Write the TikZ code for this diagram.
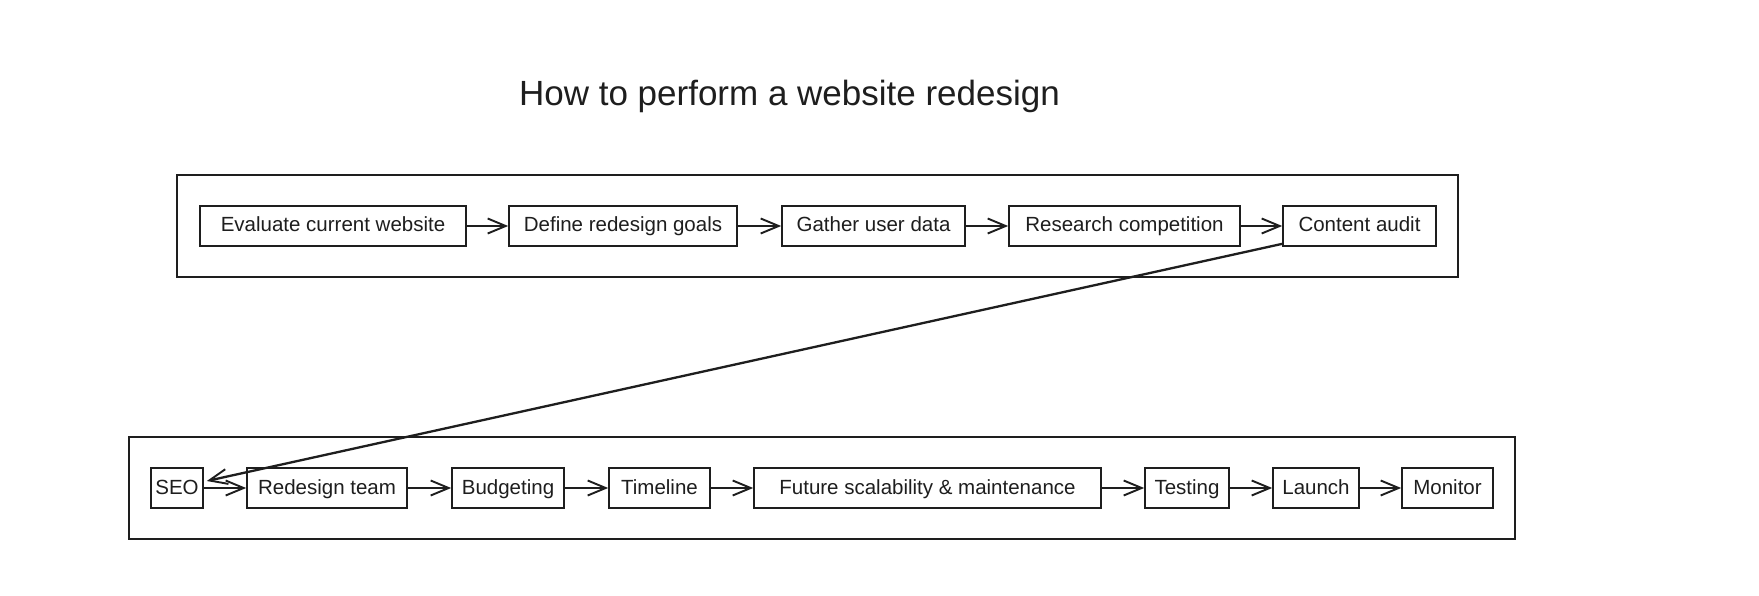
\documentclass[tikz,border=0pt]{standalone}
\usepackage{fontspec}
\setmainfont{Liberation Sans}
\usetikzlibrary{arrows.meta}
\definecolor{ink}{HTML}{1E1E1E}
\begin{document}
\begin{tikzpicture}[x=1pt,y=-1pt,
  box/.style={draw=ink, text=ink, line width=1.7pt, inner sep=0pt, minimum height=40pt,
    text height=16pt, text depth=4pt,
    font=\fontsize{20.5}{24}\selectfont},
  frame/.style={draw=ink, line width=1.3pt, inner sep=0pt},
  flow/.style={draw=ink, line width=1.9pt, -{Straight Barb[length=18pt,width=15pt,line width=1.9pt]}}]
\useasboundingbox (0,0) rectangle (1759,596);
\fill[white] (0,0) rectangle (1759,596);

\node[text=ink, font=\fontsize{35}{42}\selectfont, anchor=base] (title) at (789.5,106) {How to perform a website redesign};

% containers
\node[frame, minimum width=1281pt, minimum height=102pt] (topframe) at (817.5,226) {};
\node[frame, minimum width=1386pt, minimum height=102pt] (botframe) at (822,488) {};

% top row
\node[box, minimum width=266pt] (ev) at (333,226) {Evaluate current website};
\node[box, minimum width=228pt] (dg) at (623,226) {Define redesign goals};
\node[box, minimum width=183pt] (gu) at (873.5,226) {Gather user data};
\node[box, minimum width=231pt] (rc) at (1124.5,226) {Research competition};
\node[box, minimum width=153pt] (ca) at (1359.5,226) {Content audit};

% bottom row
\node[box, minimum width=52pt] (seo) at (177,488) {SEO};
\node[box, minimum width=160pt] (rt) at (327,488) {Redesign team};
\node[box, minimum width=112pt] (bu) at (508,488) {Budgeting};
\node[box, minimum width=101pt] (tl) at (659.5,488) {Timeline};
\node[box, minimum width=347pt] (fs) at (927.5,488) {Future scalability \& maintenance};
\node[box, minimum width=84pt] (te) at (1187,488) {Testing};
\node[box, minimum width=86pt] (la) at (1316,488) {Launch};
\node[box, minimum width=91pt] (mo) at (1447.5,488) {Monitor};

% connectors
\draw[flow] (ev.east) -- (dg.west);
\draw[flow] (dg.east) -- (gu.west);
\draw[flow] (gu.east) -- (rc.west);
\draw[flow] (rc.east) -- (ca.west);
\draw[flow, line width=2.3pt] ([yshift=3pt]ca.south west) -- ([yshift=7pt,xshift=3pt]seo.east);
\draw[flow] (seo.east) -- (rt.west);
\draw[flow] (rt.east) -- (bu.west);
\draw[flow] (bu.east) -- (tl.west);
\draw[flow] (tl.east) -- (fs.west);
\draw[flow] (fs.east) -- (te.west);
\draw[flow] (te.east) -- (la.west);
\draw[flow] (la.east) -- (mo.west);
\end{tikzpicture}
\end{document}
